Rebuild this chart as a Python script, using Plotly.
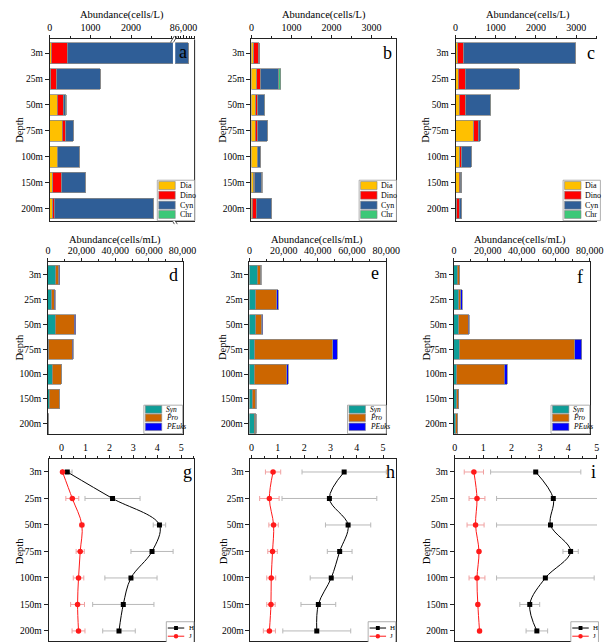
import plotly.graph_objects as go

W, H = 611, 642
FONT = "Liberation Serif"

depths = ["3m", "25m", "50m", "75m", "100m", "150m", "200m"]

# Microphytoplankton abundance (cells/L)
dia_a = [30, 25, 185, 300, 185, 70, 70]
dino_a = [400, 145, 140, 90, 10, 225, 35]
cyn_a = [85740, 1070, 50, 190, 535, 575, 2435]
chr_a = [0, 0, 30, 0, 10, 0, 0]

dia_b = [55, 135, 110, 100, 150, 55, 20]
dino_b = [125, 105, 50, 60, 15, 35, 100]
cyn_b = [15, 445, 160, 235, 75, 175, 385]
chr_b = [0, 50, 10, 0, 0, 5, 0]

dia_c = [60, 70, 95, 450, 110, 95, 30]
dino_c = [150, 170, 160, 110, 45, 20, 65]
cyn_c = [2780, 1350, 610, 55, 240, 45, 65]
chr_c = [0, 0, 10, 0, 0, 0, 0]

# Picophytoplankton abundance (cells/mL)
syn_d = [4600, 2300, 4250, 580, 2700, 820, 400]
pro_d = [1750, 1400, 11250, 13750, 5100, 5800, 100]
peuk_d = [750, 580, 960, 770, 200, 100, 50]

syn_e = [4700, 3750, 3750, 3050, 2900, 1550, 2900]
pro_e = [2000, 12300, 3400, 45600, 18900, 2200, 870]
peuk_e = [200, 700, 580, 2800, 870, 100, 100]

syn_f = [1950, 2900, 2750, 3150, 1550, 1550, 1200]
pro_f = [1500, 1100, 5600, 68000, 28000, 1100, 1100]
peuk_f = [100, 800, 750, 4100, 1900, 100, 50]

# Diversity indices (H, J) with standard deviations
h_g = [0.24, 2.13, 4.09, 3.78, 2.90, 2.58, 2.40]
h_g_sd = [0.20, 1.15, 0.26, 0.88, 1.09, 1.28, 0.68]
j_g = [0.04, 0.45, 0.85, 0.78, 0.71, 0.67, 0.71]
j_g_sd = [0.0, 0.27, 0.08, 0.17, 0.22, 0.29, 0.27]

h_h = [3.52, 2.96, 3.67, 3.35, 3.03, 2.54, 2.48]
h_h_sd = [1.60, 1.80, 0.86, 0.47, 0.80, 0.66, 1.29]
j_h = [0.82, 0.68, 0.84, 0.80, 0.75, 0.74, 0.68]
j_h_sd = [0.29, 0.37, 0.18, 0.18, 0.17, 0.16, 0.23]

h_i = [2.85, 3.47, 3.37, 4.08, 3.19, 2.64, 2.89]
h_i_sd = [1.59, 2.00, 1.90, 0.27, 1.72, 0.35, 0.38]
j_i = [0.67, 0.78, 0.73, 0.85, 0.78, 0.81, 0.87]
j_i_sd = [0.34, 0.28, 0.30, 0.05, 0.28, 0.05, 0.05]

COL = {"Dia": "#FFC000", "Dino": "#FF0000", "Cyn": "#2F5E97", "Chr": "#3CC878",
       "Syn": "#0E9E98", "Pro": "#CC6600", "PEuks": "#0000FF"}
LABEL = {"Syn": "<i>Syn</i>", "Pro": "<i>Pro</i>", "PEuks": "<i>PEuks</i>"}
AXC = "#222222"


def fx(p):
    return p / W


def fy(p):
    return 1 - p / H


fig = go.Figure()
shapes = []
annotations = []


def add_stack(xa, ya, groups):
    for name, vals in groups:
        fig.add_trace(go.Bar(
            x=vals, y=depths, orientation="h", name=name,
            xaxis=xa, yaxis=ya, showlegend=False,
            marker=dict(color=COL[name], line=dict(color="#8a8a8a", width=0.8)),
        ))


def add_profile(xa, ya, h, hsd, j, jsd):
    fig.add_trace(go.Scatter(
        x=h, y=depths, name="H", mode="lines+markers", xaxis=xa, yaxis=ya,
        showlegend=False,
        line=dict(color="black", width=1, shape="spline", smoothing=1),
        marker=dict(symbol="square", size=5, color="black"),
        error_x=dict(type="data", array=hsd, color="#b8b8b8", thickness=1, width=2.5),
    ))
    fig.add_trace(go.Scatter(
        x=j, y=depths, name="J", mode="lines+markers", xaxis=xa, yaxis=ya,
        showlegend=False,
        line=dict(color="#FF1A1A", width=1, shape="spline", smoothing=1),
        marker=dict(symbol="circle", size=5.5, color="#FF1A1A"),
        error_x=dict(type="data", array=jsd, color="#f0a0a0", thickness=1, width=2.5),
    ))


phyto = lambda d, n, c, h: [("Dia", d), ("Dino", n), ("Cyn", c), ("Chr", h)]
pico = lambda s, p, e: [("Syn", s), ("Pro", p), ("PEuks", e)]

add_stack("x", "y", phyto(dia_a, dino_a, cyn_a, chr_a))
add_stack("x10", "y", phyto(dia_a, dino_a, cyn_a, chr_a))
add_stack("x2", "y2", phyto(dia_b, dino_b, cyn_b, chr_b))
add_stack("x3", "y3", phyto(dia_c, dino_c, cyn_c, chr_c))
add_stack("x4", "y4", pico(syn_d, pro_d, peuk_d))
add_stack("x5", "y5", pico(syn_e, pro_e, peuk_e))
add_stack("x6", "y6", pico(syn_f, pro_f, peuk_f))
add_profile("x7", "y7", h_g, h_g_sd, j_g, j_g_sd)
add_profile("x8", "y8", h_h, h_h_sd, j_h, j_h_sd)
add_profile("x9", "y9", h_i, h_i_sd, j_i, j_i_sd)


def xax(x0, x1, rng, anchor, dtick, minor, fmt, tickvals=None):
    d = dict(domain=[fx(x0), fx(x1)], range=rng, anchor=anchor, side="top",
             showline=True, linecolor=AXC, linewidth=1, mirror=True,
             ticks="outside", ticklen=3, tickcolor=AXC, tick0=0, dtick=dtick,
             tickformat=fmt, showgrid=False, zeroline=False,
             tickfont=dict(size=10, color="black"),
             minor=dict(ticks="outside", ticklen=2, dtick=minor, tick0=0, tickcolor=AXC))
    if tickvals is not None:
        d["tickvals"] = tickvals
        d["tickmode"] = "array"
    return d


def yax(y0, y1, rng, anchor, mirror=True):
    return dict(domain=[fy(y1), fy(y0)], range=rng, anchor=anchor,
                type="category", categoryorder="array", categoryarray=depths,
                showline=True, linecolor=AXC, linewidth=1, mirror=mirror,
                ticks="outside", ticklen=4, tickcolor=AXC, showgrid=False,
                zeroline=False, tickfont=dict(size=9.5, color="black"))


R1 = (39.5, 221.0)
R2 = (262.0, 434.3)
R3 = (460.0, 642.0)
rng1 = [6.47, -0.53]
rng2 = [6.4, -0.54]
rng3 = [6.38, -0.48]

layout_axes = {
    "xaxis": xax(46.3, 173.3, [0, 3030], "y", 1000, 500, "d", tickvals=[0, 1000, 2000]),
    "xaxis10": xax(175.7, 195.7, [85700, 86400], "y", 1000, 100, ",d"),
    "yaxis": yax(*R1, rng1, "x", mirror=False),
    "xaxis2": xax(254.3, 404.0, [0, 3625], "y2", 1000, 500, "d"),
    "yaxis2": yax(*R1, rng1, "x2"),
    "xaxis3": xax(465.0, 611.0, [0, 3518], "y3", 1000, 500, "d"),
    "yaxis3": yax(*R1, rng1, "x3", mirror=False),
    "xaxis4": xax(44.3, 183.3, [0, 80000], "y4", 20000, 10000, ",d"),
    "yaxis4": yax(*R2, rng2, "x4"),
    "xaxis5": xax(252.3, 393.5, [0, 80000], "y5", 20000, 10000, ",d"),
    "yaxis5": yax(*R2, rng2, "x5"),
    "xaxis6": xax(463.3, 603.5, [0, 80000], "y6", 20000, 10000, ",d"),
    "yaxis6": yax(*R2, rng2, "x6"),
    "xaxis7": xax(45.0, 195.0, [-0.54, 5.53], "y7", 1, 0.5, "d"),
    "yaxis7": yax(*R3, rng3, "x7"),
    "xaxis8": xax(253.3, 403.3, [-0.04, 5.48], "y8", 1, 0.5, "d"),
    "yaxis8": yax(*R3, rng3, "x8"),
    "xaxis9": xax(464.3, 611.0, [0, 5.01], "y9", 1, 0.5, "d"),
    "yaxis9": yax(*R3, rng3, "x9", mirror=False),
}


def line(x0, y0, x1, y1, color=AXC, width=1):
    shapes.append(dict(type="line", xref="paper", yref="paper",
                       x0=fx(x0), y0=fy(y0), x1=fx(x1), y1=fy(y1),
                       line=dict(color=color, width=width)))


def rect(x0, y0, x1, y1, fill, color, width):
    shapes.append(dict(type="rect", xref="paper", yref="paper",
                       x0=fx(x0), y0=fy(y0), x1=fx(x1), y1=fy(y1),
                       fillcolor=fill, line=dict(color=color, width=width)))


def text(x, y, s, size, xanchor="center", angle=0, **kw):
    annotations.append(dict(x=fx(x), y=fy(y), xref="paper", yref="paper",
                            text=s, showarrow=False, xanchor=xanchor,
                            yanchor="middle", textangle=angle,
                            font=dict(family=FONT, size=size, color="black"), **kw))


# right edge of the broken-axis panel and the break marks
line(195.7, R1[0], 195.7, R1[1])
for dx in (0.0, 3.0):
    line(170.8 + dx, 42.5, 174.8 + dx, 36.0, color="#444", width=0.9)
    line(170.8 + dx, 218.0, 174.8 + dx, 224.5, color="#444", width=0.9)


def bar_legend(right, bottom, names, width, height, offsets, sw_h, fsize):
    left, top = right - width, bottom - height
    rect(left, top, right, bottom, "white", "#9a9a9a", 0.8)
    for name, off in zip(names, offsets):
        cy = top + off
        rect(left + 1.5, cy - sw_h / 2, left + 18.5, cy + sw_h / 2, COL[name], "#888", 0.6)
        text(left + 21, cy, LABEL.get(name, name), fsize, xanchor="left")


def line_legend(right, top, width, height):
    left = right - width
    rect(left, top, right, top + height, "white", "#9a9a9a", 0.8)
    cy = top + 6.3
    line(left + 1.5, cy, left + 18.5, cy, color="black")
    rect(left + 8, cy - 2, left + 12, cy + 2, "black", "black", 0)
    text(left + 21, cy, "H", 7, xanchor="left")
    cy = top + 14.5
    line(left + 1.5, cy, left + 18.5, cy, color="#FF1A1A")
    shapes.append(dict(type="circle", xref="paper", yref="paper",
                       x0=fx(left + 7.7), y0=fy(cy + 2.3), x1=fx(left + 12.3), y1=fy(cy - 2.3),
                       fillcolor="#FF1A1A", line=dict(color="#FF1A1A", width=0)))
    text(left + 21, cy, "J", 7, xanchor="left")


ph_names = ["Dia", "Dino", "Cyn", "Chr"]
ph_off = [5.3, 15.0, 25.0, 34.3]
for right in (195.7, 404.0, 614.5):
    bar_legend(right, R1[1], ph_names, 38.5, 40.5, ph_off, 8.0, 8)

pi_names = ["Syn", "Pro", "PEuks"]
pi_off = [4.3, 12.7, 21.7]
for right in (183.3, 393.5, 603.5):
    bar_legend(right, R2[1], pi_names, 40.0, 28.5, pi_off, 7.5, 7.5)

for right in (195.0, 403.3, 612.5):
    line_legend(right, 622.7, 28.5, 24.0)

# axis titles
for x in (121.0, 329.0, 540.0):
    text(x, 15.0, "Abundance(cells/L)", 10.5)
for x in (114.0, 322.0, 532.0):
    text(x, 240.0, "Abundance(cells/mL)", 10.5)
for xs, yc in (((15.5, 225.0, 434.5), 130.0), ((14.5, 224.5, 434.5), 348.0),
               ((14.5, 225.0, 434.5), 552.0)):
    for x in xs:
        text(x, yc, "Depth", 10.5, angle=-90)

# panel letters
for s, x, y in (("a", 184, 52), ("b", 395, 53), ("c", 605, 53),
                ("d", 174, 275), ("e", 382, 273), ("f", 593, 277),
                ("g", 188, 473), ("h", 398, 473), ("i", 607, 473)):
    text(x, y, s, 18)

fig.update_layout(
    width=W, height=H, margin=dict(l=0, r=0, t=0, b=0),
    paper_bgcolor="white", plot_bgcolor="white",
    barmode="stack", bargap=0.2,
    font=dict(family=FONT, size=10, color="black"),
    showlegend=False, shapes=shapes, annotations=annotations,
    **layout_axes,
)

fig.write_html("out.html", config={"displayModeBar": False})
